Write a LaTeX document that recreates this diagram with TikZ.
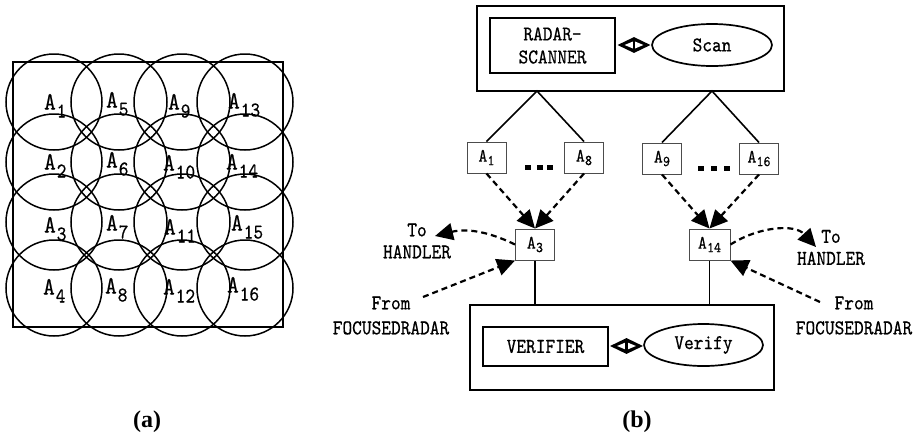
\documentclass[tikz,border=0pt]{standalone}
\usepackage{fontspec}
\setmonofont{lmmono10-regular.otf}[FakeStretch=0.88,FakeBold=0.6]
\newfontfamily\capfont{Liberation Serif}
\usetikzlibrary{arrows.meta,shapes.geometric,calc}
\newcommand\cellA[1]{A\hspace{1pt}\raisebox{-8pt}{\fontsize{21}{21}\selectfont #1}}
\newcommand\boxA[1]{A\hspace{0.3pt}\raisebox{-3.5pt}{\fontsize{15}{15}\selectfont #1}}
\tikzset{
  circ/.style={line width=1.5pt},
  lbl/.style={font=\ttfamily\fontsize{25}{25}\selectfont, inner sep=0pt, anchor=base west},
  abox/.style={draw=black!70, line width=1pt, minimum width=39pt, minimum height=31pt, inner sep=0pt, font=\ttfamily\fontsize{19}{19}\selectfont},
  frame/.style={draw, line width=2.2pt, inner sep=0pt},
  inbox/.style={draw, line width=2.2pt, inner sep=0pt, font=\ttfamily\fontsize{21}{23}\selectfont, align=center},
  oval/.style={draw, ellipse, line width=1.7pt, inner sep=0pt, font=\ttfamily\fontsize{21}{23}\selectfont},
  txt/.style={font=\ttfamily\fontsize{21}{22}\selectfont, align=center, inner sep=0pt},
  txtb/.style={font=\ttfamily\fontsize{21}{25}\selectfont, align=center, inner sep=0pt},
  tline/.style={line width=1.6pt},
  dasharrow/.style={dash pattern=on 6pt off 4pt, line width=2.2pt, -{Triangle[length=18pt,width=17pt]}},
  link/.style={fill=black, shape=diamond, minimum width=33pt, minimum height=16pt, inner sep=0pt},
  linkin/.style={fill=white, shape=diamond, minimum width=19pt, minimum height=8pt, inner sep=0pt},
  captext/.style={font=\capfont\bfseries\fontsize{24}{24}\selectfont, inner sep=0pt}
}
\begin{document}
\begin{tikzpicture}[x=1pt,y=-1pt]
\useasboundingbox (0,0) rectangle (919,440);
% ---------- (a) ----------
\draw[line width=1.8pt] (13,62) rectangle (283,327);
\foreach \cx in {54,119,182,245}
  \foreach \cy in {102,162,222,288}
    \draw[circ] (\cx,\cy) circle[radius=48];
\foreach \lx/\ly/\s in {50/102/1,50/162/2,50/225/3,49/287/4,
                        112/100/5,112/160/6,112/223/7,111/286/8,
                        174/102/9,169/163/10,170/227/11,169/287/12,
                        234/101/13,232/162/14,237/223/15,233/285/16}
  \node[lbl] (l\s) at (\lx-6,\ly+7.5) {\cellA{\s}};
\node[captext] (capa) at (147,422) {(a)};
% ---------- (b) ----------
\node[frame, minimum width=307pt, minimum height=85pt] (top) at (630.5,48.5) {};
\node[inbox, minimum width=125pt, minimum height=55pt] (radar) at (552.5,45.5) {RADAR-\\SCANNER};
\node[link] (d1) at (634,45) {};
\node[linkin] (d1i) at (d1.center) {};
\draw[line width=2.4pt] (d1i.north) -- (d1i.south);
\node[oval, minimum width=120pt, minimum height=42pt] (scan) at (712,45) {Scan};

\coordinate (ap1) at (537,91);
\coordinate (ap2) at (712,91);

\node[abox] (a1) at (486.5,157.5) {\boxA{1}};
\node[abox] (a8) at (584,157.5) {\boxA{8}};
\node[abox] (a9) at (662,158.5) {\boxA{9}};
\node[abox] (a16) at (759,158.5) {\boxA{16}};
\node[abox] (a3) at (535,244.5) {\boxA{3}};
\node[abox, minimum width=41pt] (a14) at (709.5,244.5) {\boxA{14}};

\draw[tline] (a1.north) -- (ap1) -- (a8.north);
\draw[tline] (a9.north) -- (ap2) -- (a16.north);

\foreach \dx in {525,537,547} \fill (\dx,165) rectangle (\dx+6,170);
\foreach \dx in {698,711,724} \fill (\dx,166) rectangle (\dx+6,171);

\draw[dasharrow] (a1.south) -- (a3.north);
\draw[dasharrow] (a8.south) -- (a3.north);
\draw[dasharrow] (a9.south) -- (a14.north);
\draw[dasharrow] (a16.south) -- (a14.north);

\node[txt] (th1) at (417,241) {To\\HANDLER};
\coordinate (th1tip) at (435,236);
\draw[dasharrow] (a3.west) to[bend right=20] (th1tip);

\node[txtb] (fr1) at (391,315.5) {From\\FOCUSEDRADAR};
\coordinate (fr1s) at (423,297);
\draw[dasharrow] (fr1s) -- (a3.south west);

\node[txt] (th2) at (831,247.5) {To\\HANDLER};
\coordinate (th2tip) at (816,247);
\draw[dasharrow] (a14.east) .. controls (760,226) and (795,224) .. (th2tip);

\node[txtb] (fr2) at (854,315.5) {From\\FOCUSEDRADAR};
\coordinate (fr2s) at (820,302);
\draw[dasharrow] (fr2s) -- (a14.south east);

\node[frame, minimum width=304pt, minimum height=85pt] (ver) at (622,347.5) {};
\node[inbox, minimum width=125pt, minimum height=39pt] (verifier) at (545.5,346.5) {VERIFIER};
\node[link] (d2) at (626.5,346) {};
\node[linkin] (d2i) at (d2.center) {};
\draw[line width=2.4pt] (d2i.north) -- (d2i.south);
\node[oval, minimum width=119pt, minimum height=42pt] (verify) at (703.5,345) {Verify};

\draw[tline] (a3.south) -- (a3.south |- ver.north);
\draw[tline] (a14.south) -- (a14.south |- ver.north);

\node[captext] (capb) at (637,422) {(b)};
\end{tikzpicture}
\end{document}
